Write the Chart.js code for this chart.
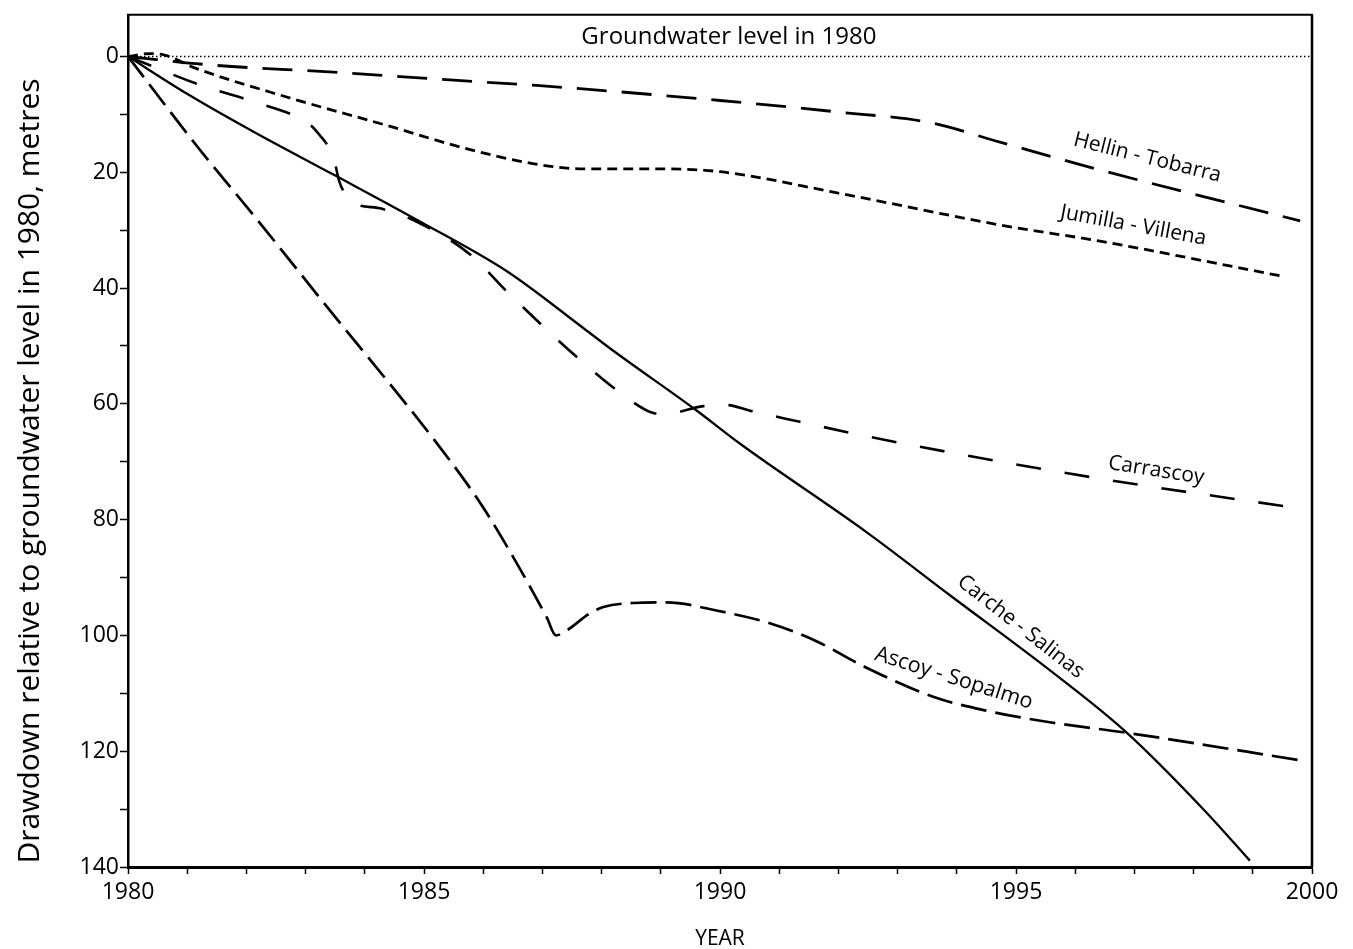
<!DOCTYPE html>
<html>
<head>
<meta charset="utf-8">
<script src="https://cdn.jsdelivr.net/npm/chart.js@4.4.1/dist/chart.umd.min.js"></script>
<style>
html,body{margin:0;padding:0;background:#fff;}
canvas{display:block;}
</style>
</head>
<body>
<canvas id="c" width="1353" height="949"></canvas>
<script>
// ---- data (years, drawdown in metres below 1980 level) ----
const xTickValues = [1980,1981,1982,1983,1984,1985,1986,1987,1988,1989,1990,1991,1992,1993,1994,1995,1996,1997,1998,1999,2000];
const xTickLabels = ['1980','1985','1990','1995','2000'];
const yTickValues = [0,10,20,30,40,50,60,70,80,90,100,110,120,130,140];
const yTickLabels = ['0','20','40','60','80','100','120','140'];

const referenceYears = [1980, 2000];
const referenceLevel = [0, 0];

const hellinYears = [1980, 1981.44, 1983.47, 1985.5, 1986.9, 1990.0, 1992.0, 1993.53, 1994.73, 1996.42, 1999.8];
const hellinDrawdown = [0, 1.5, 2.7, 4.1, 5.0, 7.6, 9.6, 11.4, 14.8, 19.6, 28.4];

const jumillaYears = [1980, 1980.37, 1980.6, 1981.16, 1982.68, 1984.37, 1985.78, 1986.96, 1987.69, 1988.82, 1990.0, 1992.0, 1994.73, 1996.42, 1999.52];
const jumillaDrawdown = [0, -0.5, -0.3, 2.1, 7.0, 11.9, 16.1, 18.7, 19.4, 19.4, 19.9, 23.6, 29.1, 31.9, 38.0];

const carrascoyYears = [1980, 1981.24, 1982.12, 1982.91, 1983.1, 1983.24, 1983.4, 1983.47, 1983.57, 1983.7, 1983.81, 1984.29, 1984.93, 1985.78, 1986.42, 1987.47, 1988.42, 1988.82, 1989.04, 1989.72, 1990.11, 1990.51, 1991.35, 1992.2, 1993.89, 1996.47, 1999.88];
const carrascoyDrawdown = [0, 5.0, 7.8, 10.7, 12.0, 13.6, 15.8, 17.3, 21.6, 24.2, 25.3, 26.3, 28.8, 34.2, 40.8, 50.9, 58.9, 61.4, 61.8, 60.4, 60.2, 61.2, 63.1, 65.0, 68.4, 73.0, 78.2];

const carcheYears = [1980, 1980.99, 1982.12, 1983.47, 1984.93, 1986.4, 1987.69, 1988.14, 1989.61, 1990.34, 1992.48, 1993.89, 1995.57, 1996.86, 1998.2, 1998.95];
const carcheDrawdown = [0, 6.4, 13.0, 20.4, 28.5, 37.1, 46.9, 50.4, 61.2, 66.9, 82.2, 93.1, 106.0, 116.7, 130.4, 138.9];

const ascoyYears = [1980, 1981.22, 1982.12, 1983.24, 1985.44, 1986.0, 1986.57, 1987.07, 1987.23, 1987.4, 1987.8, 1988.03, 1988.53, 1989.1, 1989.94, 1990.84, 1991.63, 1992.44, 1993.6, 1994.5, 1995.57, 1996.86, 1999.88];
const ascoyDrawdown = [0, 16.2, 27.4, 41.7, 69.8, 77.9, 87.6, 96.8, 100.0, 99.2, 96.2, 95.1, 94.4, 94.3, 95.7, 97.9, 101.0, 105.4, 110.6, 113.0, 115.0, 116.8, 121.7];

const seriesNames = ['Hellin - Tobarra', 'Jumilla - Villena', 'Carrascoy', 'Carche - Salinas', 'Ascoy - Sopalmo'];
const referenceName = 'Groundwater level in 1980';

// ---- label anchors (in data units) and styles ----
const labelAnchors = [
  {text: referenceName, x: 1990.15, y: -3.3, rot: 0, size: 24},
  {text: seriesNames[0], x: 1997.22, y: 17.5, rot: 14, size: 21},
  {text: seriesNames[1], x: 1996.98, y: 29.2, rot: 10.5, size: 21},
  {text: seriesNames[2], x: 1997.37, y: 71.5, rot: 9, size: 21},
  {text: seriesNames[3], x: 1995.08, y: 98.5, rot: 38, size: 21},
  {text: seriesNames[4], x: 1993.95, y: 107.4, rot: 17.5, size: 21.5}
];

const FONT = "'Open Sans', 'Noto Sans', sans-serif";
const toPts = (xs, ys) => xs.map((x, i) => ({x: x, y: ys[i]}));

function ds(label, xs, ys, dash, width) {
  return {
    label: label,
    data: toPts(xs, ys),
    borderColor: '#000',
    borderWidth: width,
    borderDash: dash,
    borderCapStyle: 'butt',
    fill: false,
    pointRadius: 0,
    cubicInterpolationMode: 'monotone'
  };
}

const annotations = {
  id: 'annotations',
  afterDatasetsDraw(chart) {
    const {ctx, chartArea: a, scales: {x, y}} = chart;
    ctx.save();
    ctx.strokeStyle = '#000';
    ctx.lineWidth = 2;
    ctx.beginPath(); ctx.moveTo(a.left - 1, a.top); ctx.lineTo(a.right + 1, a.top); ctx.stroke();
    ctx.lineWidth = 2.5;
    ctx.beginPath(); ctx.moveTo(a.right, a.top); ctx.lineTo(a.right, a.bottom); ctx.stroke();
    ctx.fillStyle = '#000';
    ctx.textAlign = 'center';
    ctx.textBaseline = 'middle';
    for (const L of labelAnchors) {
      ctx.save();
      ctx.translate(x.getPixelForValue(L.x), y.getPixelForValue(L.y));
      ctx.rotate(L.rot * Math.PI / 180);
      ctx.font = L.size + 'px ' + FONT;
      ctx.fillText(L.text, 0, 0);
      ctx.restore();
    }
    // y axis title
    ctx.save();
    ctx.translate(30, 471);
    ctx.rotate(-Math.PI / 2);
    ctx.font = '30px ' + FONT;
    ctx.fillText('Drawdown relative to groundwater level in 1980, metres', 0, 0);
    ctx.restore();
    ctx.restore();
  }
};

new Chart(document.getElementById('c'), {
  type: 'line',
  data: {
    datasets: [
      ds(referenceName, referenceYears, referenceLevel, [1.5, 2.5], 1.3),
      ds(seriesNames[0], hellinYears, hellinDrawdown, [30, 15], 2.8),
      ds(seriesNames[1], jumillaYears, jumillaDrawdown, [10, 6], 2.8),
      ds(seriesNames[2], carrascoyYears, carrascoyDrawdown, [25, 24], 2.6),
      ds(seriesNames[3], carcheYears, carcheDrawdown, [], 2.3),
      ds(seriesNames[4], ascoyYears, ascoyDrawdown, [26, 9], 2.7)
    ]
  },
  options: {
    responsive: false,
    animation: false,
    devicePixelRatio: 1,
    layout: {padding: {top: 12, right: 41, left: 0, bottom: 0}},
    plugins: {legend: {display: false}, tooltip: {enabled: false}},
    scales: {
      x: {
        type: 'linear',
        min: 1980,
        max: 2000,
        afterBuildTicks: s => { s.ticks = xTickValues.map(v => ({value: v})); },
        afterFit: s => { s.height = 82; },
        ticks: {
          autoSkip: false,
          maxRotation: 0,
          padding: 5,
          color: '#000',
          font: {family: FONT, size: 23},
          callback: v => { const t = String(v); return xTickLabels.includes(t) ? t : ''; }
        },
        grid: {display: true, drawOnChartArea: false, drawTicks: true, tickLength: 7, tickColor: '#000', tickWidth: 1.5},
        border: {display: true, color: '#000', width: 3},
        title: {display: true, text: 'YEAR', color: '#000', font: {family: FONT, size: 21}, padding: {top: 0, bottom: -3}}
      },
      y: {
        type: 'linear',
        reverse: true,
        min: -7.2,
        max: 140,
        afterBuildTicks: s => { s.ticks = yTickValues.map(v => ({value: v})); },
        afterFit: s => { s.width = 128; },
        ticks: {
          autoSkip: false,
          padding: 1,
          color: '#000',
          font: {family: FONT, size: 23},
          callback: v => { const t = String(v); return yTickLabels.includes(t) ? t : ''; }
        },
        grid: {display: true, drawOnChartArea: false, drawTicks: true, tickLength: 8, tickColor: '#000', tickWidth: 1.5},
        border: {display: true, color: '#000', width: 2.5}
      }
    }
  },
  plugins: [annotations]
});
</script>
</body>
</html>
